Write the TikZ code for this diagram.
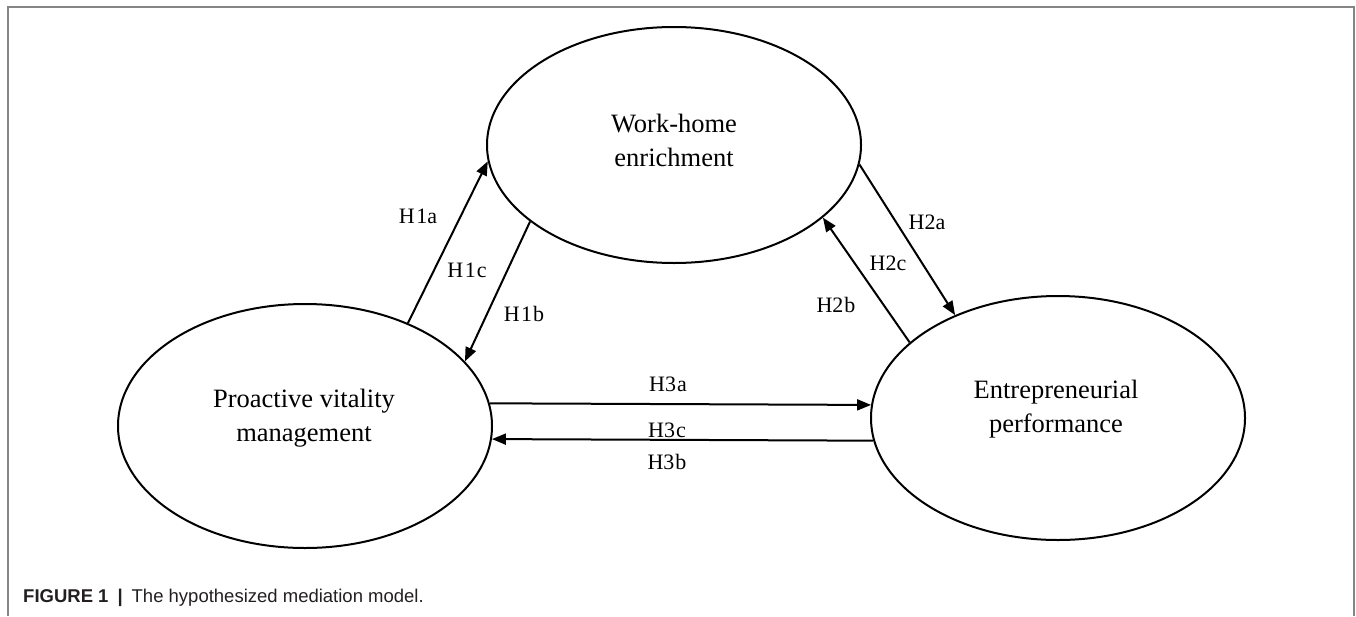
\documentclass[tikz,border=0pt]{standalone}
\usepackage{fontspec}
\setmainfont{Liberation Serif}
\newfontfamily\capfont{Liberation Sans}
\usetikzlibrary{shapes.geometric,arrows.meta}
\definecolor{framegray}{HTML}{858585}
\definecolor{captext}{HTML}{231F20}
\tikzset{
  construct/.style={ellipse, draw=black, line width=2pt, inner sep=0pt,
    minimum width=374pt, minimum height=240pt},
  maintext/.style={font=\fontsize{26.5}{34}\selectfont, align=center, inner sep=0pt},
  hyplabel/.style={font=\fontsize{22}{26}\selectfont, inner sep=0pt},
  path/.style={draw=black, line width=2pt},
  arr/.style={path, -{Triangle[length=14pt,width=11pt]}}
}
\begin{document}
\begin{tikzpicture}[x=1pt,y=-1pt]
\useasboundingbox (0,0) rectangle (1356,616);
% frame
\coordinate (fbl) at (8,616);
\coordinate (ftl) at (8,7);
\coordinate (ftr) at (1354,7);
\coordinate (fbr) at (1354,616);
\draw[framegray, line width=1.5pt] (fbl) -- (ftl) -- (ftr) -- (fbr);

% constructs
\node[construct, minimum height=236pt] (wh) at (674,145) {};
\node[construct, minimum height=244pt] (pv) at (305,426) {};
\node[construct, minimum height=244pt] (ep) at (1058,418) {};

\node[maintext] (whtxt) at (674,140) {Work-home\\enrichment};
\node[maintext] (pvtxt) at (304,418) {Proactive vitality\\management};
\node[maintext] (eptxt) at (1056,409) {Entrepreneurial\\performance};

% connectors
\draw[arr] (pv.45.3) -- (wh.185.2);
\draw[arr] (wh.208.7) -- (pv.22);
\draw[arr] (wh.354.5) -- (ep.135.6);
\draw[arr] (ep.153.6) -- (wh.334.8);
\draw[arr] (pv.7.1) -- (ep.176.3);
\draw[arr] (ep.187.4) -- (pv.356.6);

% labels
\node[hyplabel] (l1a) at (418,216) {H\kern1.5pt1a};
\node[hyplabel] (l1c) at (467,270) {H\kern1.5pt1\kern1pt c};
\node[hyplabel] (l1b) at (524,314) {H\kern1.5pt1\kern1pt b};
\node[hyplabel] (l2a) at (927,222) {H2a};
\node[hyplabel] (l2c) at (888,263) {H2c};
\node[hyplabel] (l2b) at (836,305) {H2\kern1pt b};
\node[hyplabel] (l3a) at (668,384) {H3\kern1pt a};
\node[hyplabel] (l3c) at (667,430) {H3\kern1pt c};
\node[hyplabel] (l3b) at (667,462) {H3\kern1pt b};

% caption
\node[anchor=west, inner sep=0pt, text=captext, font=\capfont\fontsize{18.5}{22}\selectfont] (cap) at (23,598)
  {\textbf{FIGURE 1}\hspace{9pt}\textbf{|}\hspace{9pt}The hypothesized mediation model.};
\end{tikzpicture}
\end{document}
